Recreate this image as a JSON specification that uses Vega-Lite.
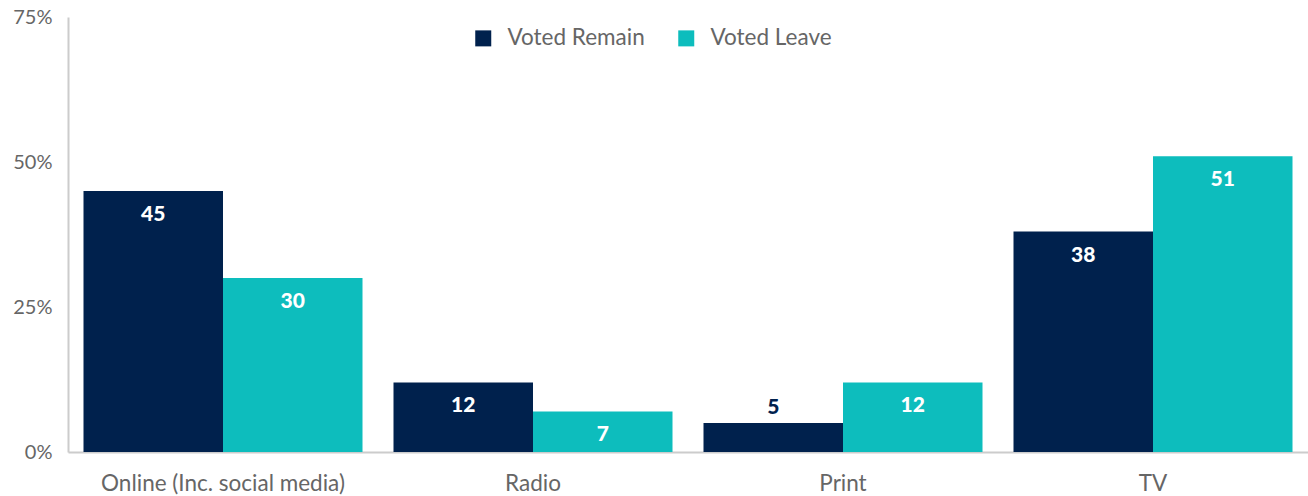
{
  "$schema": "https://vega.github.io/schema/vega-lite/v6.json",
  "autosize": {"type": "none"},
  "width": 1240,
  "height": 435,
  "padding": {"left": 68, "top": 17, "right": 0, "bottom": 44},
  "background": "white",
  "config": {
    "view": {"stroke": null},
    "font": "Lato"
  },
  "data": {
    "values": [
      {"medium": "Online (Inc. social media)", "group": "Voted Remain", "value": 45},
      {"medium": "Online (Inc. social media)", "group": "Voted Leave", "value": 30},
      {"medium": "Radio", "group": "Voted Remain", "value": 12},
      {"medium": "Radio", "group": "Voted Leave", "value": 7},
      {"medium": "Print", "group": "Voted Remain", "value": 5},
      {"medium": "Print", "group": "Voted Leave", "value": 12},
      {"medium": "TV", "group": "Voted Remain", "value": 38},
      {"medium": "TV", "group": "Voted Leave", "value": 51}
    ]
  },
  "encoding": {
    "x": {
      "field": "medium",
      "type": "nominal",
      "sort": ["Online (Inc. social media)", "Radio", "Print", "TV"],
      "scale": {"paddingInner": 0.1, "paddingOuter": 0.05},
      "axis": {
        "title": null,
        "labelAngle": 0,
        "ticks": false,
        "domainColor": "#cccccc",
        "domainWidth": 2,
        "labelColor": "#666666",
        "labelFontSize": 22.5,
        "labelFont": "Lato",
        "labelLimit": 0,
        "labelPadding": 20
      }
    },
    "xOffset": {
      "field": "group",
      "type": "nominal",
      "sort": ["Voted Remain", "Voted Leave"],
      "scale": {"paddingInner": 0, "paddingOuter": 0}
    },
    "y": {
      "field": "value",
      "type": "quantitative",
      "scale": {"domain": [0, 75]},
      "axis": {
        "title": null,
        "values": [0, 25, 50, 75],
        "labelExpr": "datum.value + '%'",
        "grid": false,
        "ticks": false,
        "domainColor": "#cccccc",
        "domainWidth": 2,
        "labelColor": "#666666",
        "labelFontSize": 20,
        "labelFont": "Lato",
        "labelPadding": 16
      }
    }
  },
  "layer": [
    {
      "mark": {"type": "bar"},
      "encoding": {
        "color": {
          "field": "group",
          "type": "nominal",
          "sort": ["Voted Remain", "Voted Leave"],
          "scale": {"domain": ["Voted Remain", "Voted Leave"], "range": ["#00214D", "#0DBDBD"]},
          "legend": {
            "title": null,
            "orient": "none",
            "legendX": 404,
            "legendY": 10,
            "direction": "horizontal",
            "symbolType": "square",
            "symbolSize": 256,
            "symbolStrokeWidth": 0,
            "labelFontSize": 22.5,
            "labelColor": "#666666",
            "labelFont": "Lato",
            "labelOffset": 13,
            "labelLimit": 0,
            "columnPadding": 30
          }
        }
      }
    },
    {
      "transform": [{"filter": "datum.value >= 7"}],
      "mark": {"type": "text", "color": "white", "fontWeight": 900, "fontSize": 21, "dy": 24, "baseline": "middle", "font": "Lato"},
      "encoding": {"text": {"field": "value", "type": "quantitative"}}
    },
    {
      "transform": [{"filter": "datum.value < 7"}],
      "mark": {"type": "text", "color": "#00214D", "fontWeight": 900, "fontSize": 21, "dy": -15, "baseline": "middle", "font": "Lato"},
      "encoding": {"text": {"field": "value", "type": "quantitative"}}
    }
  ]
}
